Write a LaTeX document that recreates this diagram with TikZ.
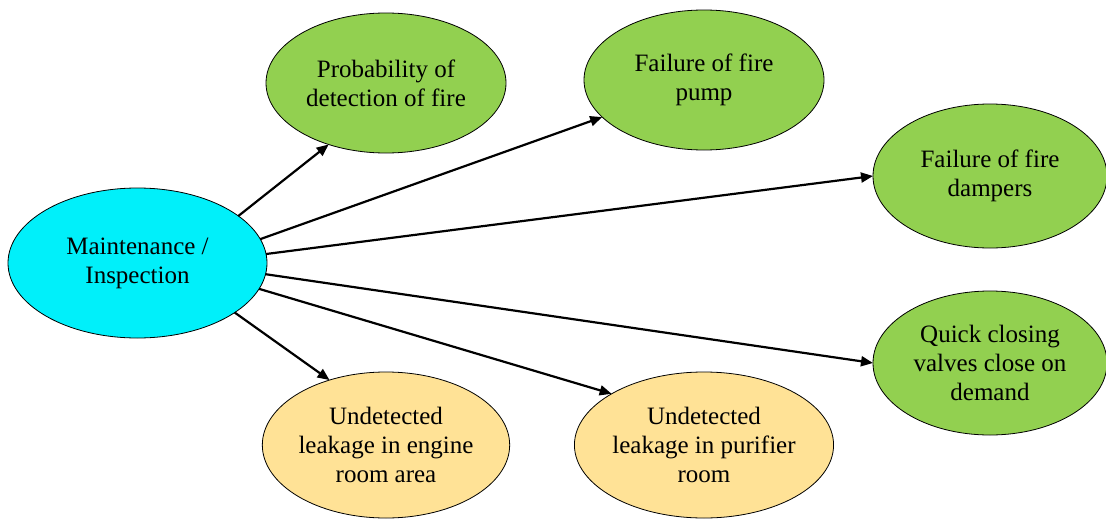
\documentclass[tikz,border=0pt]{standalone}
\usepackage{fontspec}
\setmainfont{Liberation Serif}
\usetikzlibrary{shapes.geometric,arrows.meta}
\definecolor{causecyan}{RGB}{0,240,250}
\definecolor{effectgreen}{RGB}{146,208,80}
\definecolor{leakgold}{RGB}{255,226,150}
\begin{document}
\begin{tikzpicture}[x=1pt,y=-1pt,
  bubble/.style={ellipse,draw=black,line width=0.8pt,inner sep=0pt,outer sep=0pt,
    align=center,font=\fontsize{25}{29}\selectfont},
  cause/.style={bubble,fill=causecyan,minimum width=259pt,minimum height=150pt},
  effect/.style={bubble,fill=effectgreen,minimum width=240pt,minimum height=140pt},
  sideeffect/.style={bubble,fill=effectgreen,minimum width=234pt,minimum height=144pt},
  leak/.style={bubble,fill=leakgold,minimum width=240pt,minimum height=146pt},
  link/.style={line width=2.2pt,-{Triangle[length=12pt,width=10pt]}}
]
\useasboundingbox (0,0) rectangle (1106,522);

\node[cause] (mi) at (137.5,263) {Maintenance /\\Inspection};

\node[effect] (det) at (386,83) {Probability of\\detection of fire};
\node[effect] (pump) at (704,80) {Failure of fire\\pump};
\node[sideeffect] (damp) at (990,176) {Failure of fire\\dampers};
\node[sideeffect] (qcv) at (990,363) {Quick closing\\valves close on\\demand};

\node[leak] (eng) at (386,445) {Undetected\\leakage in engine\\room area};
\node[leak] (pur) at (704,445) {Undetected\\leakage in purifier\\room};

\draw[link] (mi.25) -- (det.227);
\draw[link] (mi.11.7) -- (pump.200);
\draw[link] (mi.4.9) -- (damp.180);
\draw[link] (mi.-5.8) -- (qcv.180);
\draw[link] (mi.-12.6) -- (pur.151);
\draw[link] (mi.-27.4) -- (eng.131);
\end{tikzpicture}
\end{document}
